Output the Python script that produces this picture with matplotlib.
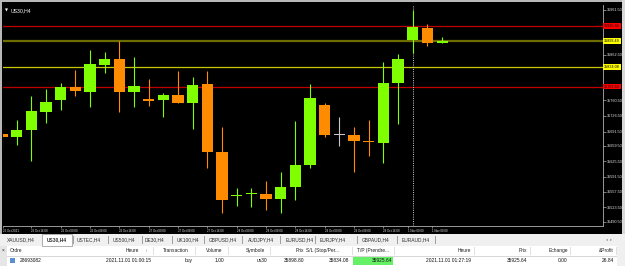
import matplotlib
matplotlib.use("Agg")
import matplotlib.pyplot as plt
from matplotlib.patches import Rectangle

plt.rcParams['font.family'] = ['Liberation Sans', 'DejaVu Sans']

W, H = 625, 266

# US30 H4 candles
opens  = [35686, 35679, 35695, 35735, 35761, 35790, 35779, 35839, 35853, 35779,
          35762, 35761, 35773, 35755, 35797, 35646, 35548, 35553, 35553, 35542,
          35568, 35617, 35750, 35684, 35684, 35669, 35666, 35799, 35895, 35921, 35888]
highs  = [35712, 35717, 35770, 35786, 35799, 35828, 35873, 35868, 35893, 35857,
          35808, 35777, 35826, 35813, 35826, 35702, 35566, 35566, 35582, 35602,
          35715, 35797, 35755, 35724, 35702, 35717, 35846, 35864, 35961, 35930, 35901]
lows   = [35650, 35662, 35626, 35710, 35739, 35770, 35746, 35821, 35735, 35746,
          35748, 35724, 35755, 35697, 35610, 35510, 35526, 35524, 35517, 35510,
          35539, 35610, 35679, 35659, 35602, 35637, 35621, 35708, 35866, 35881, 35888]
closes = [35679, 35695, 35737, 35757, 35790, 35782, 35841, 35853, 35779, 35793,
          35761, 35773, 35755, 35795, 35646, 35539, 35549, 35555, 35542, 35568,
          35617, 35766, 35684, 35684, 35670, 35668, 35799, 35853, 35924, 35888, 35893]

time_pos = [0.1, 2, 4, 6, 8, 10, 12, 14, 16, 18, 20, 22, 24, 26, 27.7, 29.3]
time_labels = ['25 Oct 2021', '25 Oct 16:00', '26 Oct 00:00', '26 Oct 08:00',
               '26 Oct 16:00', '27 Oct 00:00', '27 Oct 08:00', '27 Oct 16:00',
               '28 Oct 00:00', '28 Oct 08:00', '28 Oct 16:00', '29 Oct 00:00',
               '29 Oct 08:00', '29 Oct 16:00', '1 Nov 00:00', '1 Nov 08:00']

price_ticks = [35961.5, 35862.5, 35760.5, 35726.5, 35691.5, 35659.5,
               35625.5, 35591.5, 35557.5, 35523.5, 35490.5]

levels = [35925.64, 35893.49, 35834.08, 35791.50]
level_labels = ['35925.64', '35893.49', '35834.08', '35791.50']
separator_bar = 28

tabs = ['XAUUSD,H4', 'US30,H4', 'USTEC,H4', 'US500,H4', 'DE30,H4', 'UK100,H4',
        'GBPUSD,H4', 'AUDJPY,H4', 'EURUSD,H4', 'EURJPY,H4', 'GBPAUD,H4', 'EURAUD,H4']
headers = ['Ordre', 'Heure', 'Transaction', 'Volume', 'Symbole', 'Prix',
           'S/L (Stop/Per...', 'T/P (Prendre...', 'Heure', 'Prix', 'Echange', '&Profit']
row = ['28693082', '2021.11.01 01:00:15', 'buy', '1.00', 'us30', '35898.80',
       '35834.08', '35925.64', '2021.11.01 01:27:19', '35925.64', '0.00', '26.84']


def fx(x):
    return x / W


def fy(y):
    return 1 - y / H


fig = plt.figure(figsize=(W / 100, H / 100), dpi=100, facecolor='black')

# ---- chart ----
ax = fig.add_axes([fx(3), fy(226), fx(603) - fx(3), fy(5) - fy(226)])
ax.set_facecolor('black')

idx = list(range(len(opens)))
up, dn, flat = '#80ff00', '#ff8c00', '#c8c8c8'
colors = [up if c > o else dn if c < o else flat for o, c in zip(opens, closes)]
heights = [max(abs(c - o), 2.4) for o, c in zip(opens, closes)]
bottoms = [min(o, c) - (h - abs(c - o)) / 2 for o, c, h in zip(opens, closes, heights)]

line_colors = ['#c00000', '#6e6e00', '#c8c800', '#c00000']
line_widths = [0.9, 1.6, 0.9, 0.9]
tag_colors = ['#ff0000', '#ffff00', '#ffff00', '#ff0000']
for v, lc, lw in zip(levels, line_colors, line_widths):
    ax.axhline(v, color=lc, lw=lw, zorder=1)
ax.axvline(separator_bar, color='#d0d0d0', lw=0.7, ls=(0, (1, 1.3)), zorder=1.5)

ax.vlines(idx, lows, highs, colors=colors, lw=0.8, zorder=2)
ax.bar(idx, heights, width=0.76, bottom=bottoms, color=colors, lw=0, zorder=3)

ax.set_xlim(0.068, 40.97)
ax.set_ylim(35481.6, 35972.6)

for s in ['top', 'left']:
    ax.spines[s].set_visible(False)
for s in ['right', 'bottom']:
    ax.spines[s].set_color('#b0b0b0')
    ax.spines[s].set_linewidth(0.6)

ax.yaxis.tick_right()
ax.set_yticks(price_ticks, [f'{v:.2f}' for v in price_ticks])
ax.tick_params(axis='y', colors='#b0b0b0', labelcolor='#e8e8e8', length=2,
               width=0.5, pad=1, labelsize=2.7)
ax.set_xticks(time_pos, time_labels)
ax.tick_params(axis='x', colors='#b0b0b0', labelcolor='#e8e8e8', length=1.5,
               width=0.5, pad=0.8, labelsize=2.1)
for t in ax.get_xticklabels():
    t.set_ha('left')

for v, lab, tc in zip(levels, level_labels, tag_colors):
    ax.text(1.002, v, lab, transform=ax.get_yaxis_transform(), fontsize=2.7,
            color='black', va='center', ha='left', clip_on=False, zorder=5,
            bbox=dict(boxstyle='square,pad=0.25', fc=tc, ec='none'))

fig.text(fx(4.5), fy(11), '▼', fontsize=2.8, color='white', va='center',
         family='DejaVu Sans')
fig.text(fx(11), fy(11), 'US30,H4', fontsize=3.7, color='white', va='center')

# window frame
fig.patches.append(Rectangle((0, fy(235)), fx(2), fy(0) - fy(235),
                             transform=fig.transFigure, fc='#b8b8b8', ec='none'))
fig.patches.append(Rectangle((0, fy(2)), 1, fy(0) - fy(2),
                             transform=fig.transFigure, fc='#b8b8b8', ec='none'))
fig.patches.append(Rectangle((fx(622), fy(235)), fx(3), fy(0) - fy(235),
                             transform=fig.transFigure, fc='#d8d8d8', ec='none'))

# ---- terminal panel ----
def rect(x0, y0, x1, y1, fc, ec='none', lw=0.5):
    fig.patches.append(Rectangle((fx(x0), fy(y1)), fx(x1) - fx(x0), fy(y0) - fy(y1),
                                 transform=fig.transFigure, fc=fc, ec=ec, lw=lw))


rect(0, 234, W, 246, '#f0f0f0')
rect(0, 246, W, H, 'white')
rect(0, 246, 7, H, '#e6e6e6')
rect(617, 246, W, H, '#f0f0f0')
rect(7, 256, 617, 256.6, '#d8d8d8')
rect(42, 234, 72, 246, 'white', ec='#909090', lw=0.5)

tab_x = [7, 47, 77, 113, 145, 177, 209, 248, 286, 320, 362, 402]
sep_x = [73, 108, 142, 172, 204, 242, 280, 315, 357, 397, 435]
for x, t in zip(tab_x, tabs):
    fig.text(fx(x), fy(240), t, fontsize=3.5, color='#303030', va='center',
             weight='bold' if t == 'US30,H4' else 'normal')
for x in sep_x:
    rect(x, 236, x + 0.6, 244, '#a0a0a0')
fig.text(fx(606), fy(240), '◂  ▸', fontsize=2.6, color='#808080', va='center',
         family='DejaVu Sans')

head_x = [10, 139, 163, 206, 246, 304, 306, 357, 458, 527, 549, 614]
head_ha = ['left', 'right', 'left', 'left', 'left', 'right', 'left', 'left',
           'left', 'right', 'left', 'right']
for x, t, ha in zip(head_x, headers, head_ha):
    fig.text(fx(x), fy(250.5), t, fontsize=3.5, color='#202020', va='center', ha=ha)
fig.text(fx(146), fy(250.5), '/', fontsize=3.2, color='#808080', va='center')
for x in [153, 195, 228, 270, 305.5, 352, 394, 474, 530, 570, 616]:
    rect(x, 247, x + 0.6, 255, '#e0e0e0')

rect(353, 257, 393, 265, '#66f066')
row_x = [20, 151, 193, 224, 267, 304, 349, 392, 471, 527, 567, 614]
row_ha = ['left'] + ['right'] * 11
for x, t, ha in zip(row_x, row, row_ha):
    fig.text(fx(x), fy(260.5), t, fontsize=3.5, color='#101010', va='center', ha=ha)
rect(10, 258, 15, 263, '#5a8fd0')
fig.text(fx(1.2), fy(250), '×', fontsize=3.5, color='#202020', va='center')

fig.savefig('out.png', dpi=100, facecolor=fig.get_facecolor())
